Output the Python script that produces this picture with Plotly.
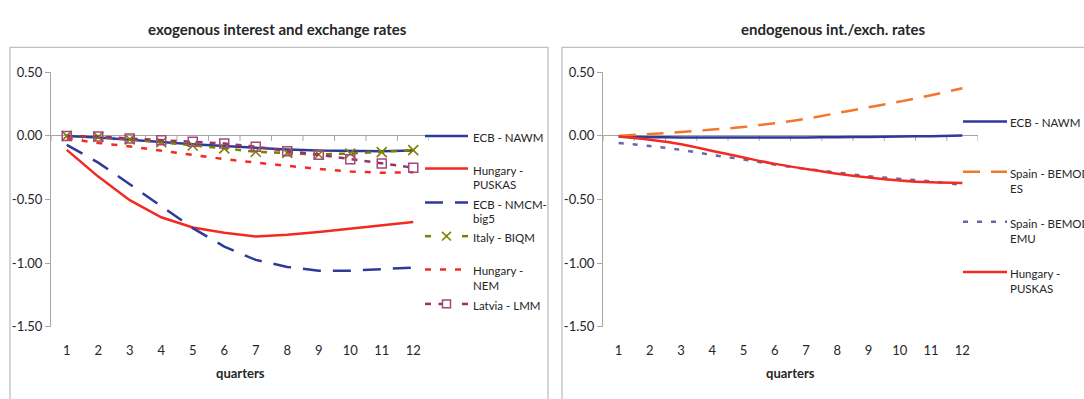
import plotly.graph_objects as go

W, H = 1084, 399

# ---- data -------------------------------------------------------------
quarters = list(range(1, 13))
y_tickvals = [0.5, 0.0, -0.5, -1.0, -1.5]
y_ticktext = ["0.50", "0.00", "-0.50", "-1.00", "-1.50"]

# exogenous interest and exchange rates
ecb_nawm_exo = [0.00, -0.012, -0.03, -0.05, -0.065, -0.08, -0.095, -0.107, -0.115, -0.12, -0.12, -0.115]
hungary_puskas_exo = [-0.11, -0.32, -0.505, -0.64, -0.72, -0.762, -0.79, -0.778, -0.755, -0.728, -0.70, -0.677]
ecb_nmcm_big5 = [-0.07, -0.21, -0.38, -0.55, -0.725, -0.87, -0.975, -1.03, -1.06, -1.06, -1.05, -1.035]
italy_biqm = [0.00, -0.008, -0.027, -0.05, -0.075, -0.098, -0.125, -0.133, -0.146, -0.138, -0.127, -0.112]
hungary_nem = [-0.02, -0.055, -0.083, -0.116, -0.15, -0.182, -0.21, -0.237, -0.26, -0.28, -0.29, -0.285]
latvia_lmm = [0.00, -0.005, -0.02, -0.035, -0.045, -0.06, -0.085, -0.12, -0.148, -0.183, -0.217, -0.25]

# endogenous interest / exchange rates
ecb_nawm_endo = [-0.005, -0.01, -0.012, -0.013, -0.013, -0.013, -0.012, -0.01, -0.008, -0.005, -0.002, 0.003]
spain_bemod_es = [0.00, 0.015, 0.03, 0.05, 0.07, 0.10, 0.135, 0.18, 0.225, 0.27, 0.32, 0.375]
spain_bemod_emu = [-0.055, -0.08, -0.11, -0.15, -0.185, -0.225, -0.26, -0.288, -0.318, -0.338, -0.358, -0.385]
hungary_puskas_endo = [-0.005, -0.03, -0.065, -0.118, -0.17, -0.22, -0.26, -0.297, -0.327, -0.35, -0.365, -0.37]

# ---- styling ----------------------------------------------------------
FONT = "Lato"
TXT = "#262626"
AXIS = "#A6A6A6"
FRAME = "#BFBFBF"
NAVY = "#2E3A9A"
RED = "#F22B22"
OLIVE = "#808000"
PURPLE = "#993366"
PURPLE_MK = "#A2487F"
ORANGE = "#F2762B"
SLATE = "#5F6AA8"
LW = 2.5


def fx(p):
    return p / W


def fy(p):
    return 1 - p / H


left_dom = [fx(51), fx(429)]
right_dom = [fx(603), fx(978)]
y_dom = [fy(332), fy(67)]

exo_series = [
    (["ECB - NAWM"], ecb_nawm_exo, NAVY, "solid", None),
    (["Hungary -", "PUSKAS"], hungary_puskas_exo, RED, "solid", None),
    (["ECB - NMCM-", "big5"], ecb_nmcm_big5, NAVY, "18px,12px", None),
    (["Italy - BIQM"], italy_biqm, OLIVE, "6px,7px", "x"),
    (["Hungary -", "NEM"], hungary_nem, RED, "6px,9px", None),
    (["Latvia - LMM"], latvia_lmm, PURPLE, "6px,7px", "sq"),
]
endo_series = [
    (["ECB - NAWM"], ecb_nawm_endo, NAVY, "solid", None),
    (["Spain - BEMOD-", "ES"], spain_bemod_es, ORANGE, "17px,11px", None),
    (["Spain - BEMOD-", "EMU"], spain_bemod_emu, SLATE, "5px,9px", None),
    (["Hungary -", "PUSKAS"], hungary_puskas_endo, RED, "solid", None),
]

fig = go.Figure()


def add_series(series, xa, ya, shape):
    for lines, vals, color, dash, mk in series:
        tr = dict(
            x=quarters, y=vals, xaxis=xa, yaxis=ya, mode="lines",
            line=dict(color=color, width=LW, dash=dash, shape=shape),
            name=" ".join(lines), showlegend=False, hoverinfo="skip",
        )
        if mk == "x":
            tr["mode"] = "lines+markers"
            tr["marker"] = dict(symbol="x-thin", size=10, color=color,
                                line=dict(width=1.6, color=color))
        elif mk == "sq":
            tr["mode"] = "lines+markers"
            tr["marker"] = dict(symbol="square-open", size=9, color=PURPLE_MK,
                                line=dict(width=1.5, color=PURPLE_MK))
        fig.add_trace(go.Scatter(**tr))


add_series(exo_series, "x", "y", "linear")
add_series(endo_series, "x2", "y2", "spline")

axis_font = dict(family=FONT, size=13, color=TXT)
xcommon = dict(range=[0.5, 12.5], tickvals=quarters, ticktext=[str(q) for q in quarters],
               ticks="outside", ticklen=12, tickcolor="rgba(0,0,0,0)",
               showline=False, showgrid=False, zeroline=False, tickfont=axis_font,
               fixedrange=True)
ycommon = dict(range=[-1.5, 0.5], tickvals=y_tickvals, ticktext=y_ticktext,
               ticks="outside", ticklen=5, tickcolor=AXIS, showline=True,
               linecolor=AXIS, linewidth=1, showgrid=False, zeroline=True,
               zerolinecolor=AXIS, zerolinewidth=1, tickfont=axis_font,
               domain=y_dom, fixedrange=True)

fig.update_layout(
    width=W, height=H, margin=dict(l=0, r=0, t=0, b=0),
    paper_bgcolor="white", plot_bgcolor="white", showlegend=False,
    xaxis=dict(domain=left_dom, anchor="y", **xcommon),
    yaxis=dict(anchor="x", **ycommon),
    xaxis2=dict(domain=right_dom, anchor="y2", **xcommon),
    yaxis2=dict(anchor="x2", **ycommon),
)

shapes = []
annotations = []

# chart-area frames
shapes.append(dict(type="rect", xref="paper", yref="paper", x0=fx(10), x1=fx(548),
                   y0=fy(410), y1=fy(41), line=dict(color=FRAME, width=1.3),
                   fillcolor="rgba(0,0,0,0)", layer="below"))
shapes.append(dict(type="rect", xref="paper", yref="paper", x0=fx(562), x1=fx(1100),
                   y0=fy(410), y1=fy(41), line=dict(color=FRAME, width=1.3),
                   fillcolor="rgba(0,0,0,0)", layer="below"))

# category tick marks along the zero line
for xa, ya in (("x", "y"), ("x2", "y2")):
    for b in [q + 0.5 for q in range(0, 13)]:
        shapes.append(dict(type="line", xref=xa, yref=ya, x0=b, x1=b,
                           ysizemode="pixel", yanchor=0, y0=0, y1=-5,
                           line=dict(color=AXIS, width=1), layer="below"))


def label(text, x, y, size, anchor="center"):
    annotations.append(dict(text=text, x=fx(x), y=fy(y), xref="paper", yref="paper",
                            xanchor=anchor, yanchor="middle", showarrow=False,
                            font=dict(family=FONT, size=size, color=TXT)))


# titles and axis titles
label("<b>exogenous interest and exchange rates</b>", 277, 22, 15)
label("<b>endogenous int./exch. rates</b>", 833, 22, 15)
label("<b>quarters</b>", 240, 380, 13)
label("<b>quarters</b>", 790.5, 380, 13)


# hand-drawn legends beside each plot
def legend(series, key_x0, key_x1, text_x, rows):
    for (lines, _, color, dash, mk), ly in zip(series, rows):
        mid = (key_x0 + key_x1) / 2
        if mk is None:
            shapes.append(dict(type="line", xref="paper", yref="paper", x0=fx(key_x0),
                               x1=fx(key_x1), y0=fy(ly), y1=fy(ly),
                               line=dict(color=color, width=LW, dash=dash)))
        else:
            for a, b in ((key_x0, key_x0 + 6), (key_x1 - 6, key_x1)):
                shapes.append(dict(type="line", xref="paper", yref="paper", x0=fx(a),
                                   x1=fx(b), y0=fy(ly), y1=fy(ly),
                                   line=dict(color=color, width=LW)))
            if mk == "x":
                for d in (-1, 1):
                    shapes.append(dict(type="line", xref="paper", yref="paper",
                                       x0=fx(mid - 4.5), x1=fx(mid + 4.5),
                                       y0=fy(ly - 4.5 * d), y1=fy(ly + 4.5 * d),
                                       line=dict(color=color, width=1.6)))
            else:
                shapes.append(dict(type="line", xref="paper", yref="paper",
                                   x0=fx(mid - 8), x1=fx(mid - 3), y0=fy(ly), y1=fy(ly),
                                   line=dict(color=color, width=LW)))
                shapes.append(dict(type="rect", xref="paper", yref="paper",
                                   x0=fx(mid - 4), x1=fx(mid + 4), y0=fy(ly + 4),
                                   y1=fy(ly - 4), fillcolor="white",
                                   line=dict(color=PURPLE_MK, width=1.5)))
        for i, t in enumerate(lines):
            label(t, text_x, ly + 1.5 + 15.5 * i, 11.5, anchor="left")


legend(exo_series, 425, 468, 471, [133.3, 167.3, 202.7, 237.7, 272.3, 308.3])
legend(endo_series, 963, 1007, 1008, [118.3, 170.7, 222.7, 275])

fig.update_layout(shapes=shapes, annotations=annotations)
fig.write_html("out.html")
